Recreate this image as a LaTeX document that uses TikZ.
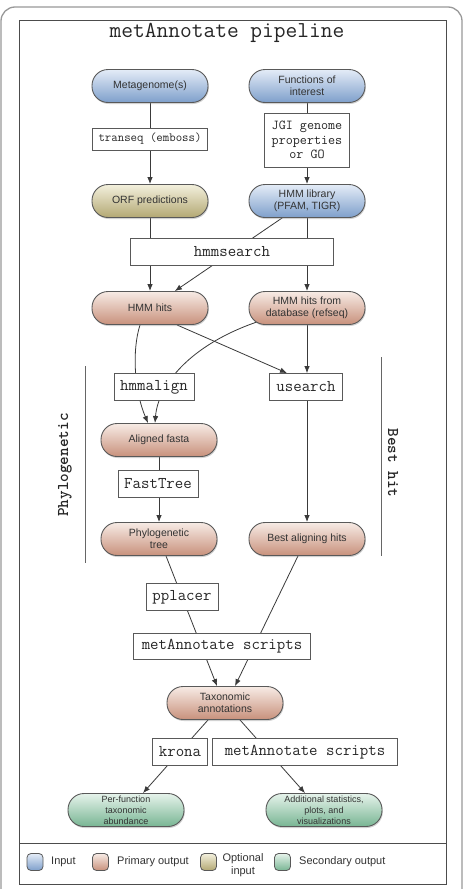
\documentclass[tikz,border=0pt]{standalone}
\usepackage{fontspec}
\setmainfont{Liberation Sans}
\newcommand\monof{\ttfamily}
\usetikzlibrary{shadows,arrows.meta}
\pgfdeclarelayer{back}
\pgfdeclarelayer{bg}
\pgfsetlayers{back,bg,main}
\definecolor{inTop}{HTML}{E4ECF7}
\definecolor{inBot}{HTML}{7E9FCB}
\definecolor{prTop}{HTML}{F7EBE5}
\definecolor{prBot}{HTML}{C8917C}
\definecolor{opTop}{HTML}{F3F0DD}
\definecolor{opBot}{HTML}{B3A873}
\definecolor{seTop}{HTML}{E6F3EB}
\definecolor{seBot}{HTML}{78B593}
\definecolor{lineC}{HTML}{3A3A3A}
\tikzset{
  pill/.style={rounded corners=16pt, minimum width=116pt, minimum height=33pt,
    draw=black!65, line width=0.9pt, align=center, inner sep=1pt,
    font=\fontsize{10.5}{12}\selectfont, text=black!80,
    drop shadow={opacity=0.35, shadow xshift=0.8pt, shadow yshift=-1.5pt}},
  inputn/.style={pill, top color=inTop, bottom color=inBot},
  primaryn/.style={pill, top color=prTop, bottom color=prBot},
  optionaln/.style={pill, top color=opTop, bottom color=opBot},
  secondaryn/.style={pill, top color=seTop, bottom color=seBot},
  legsq/.style={rounded corners=4pt, minimum width=16pt, minimum height=17pt,
    draw=black!65, line width=0.8pt, inner sep=0pt},
  tool/.style={draw=black!65, fill=white, line width=0.8pt, inner sep=0pt,
    minimum height=27pt, align=center, text=black!85,
    font=\monof\fontsize{16.4}{18}\selectfont},
  legtext/.style={font=\fontsize{11}{12.5}\selectfont, text=black!80, inner sep=0pt, align=center},
  edge/.style={draw=lineC, line width=0.8pt},
  arr/.style={edge, -{Latex[length=7pt,width=5.5pt]}},
  side/.style={font=\monof\bfseries\fontsize{16.4}{18}\selectfont, text=black!85}
}
\begin{document}
\begin{tikzpicture}[x=1pt,y=1pt]
\useasboundingbox (0,0) rectangle (465,-889);
\clip (0,0) rectangle (465,-889);
\begin{pgfonlayer}{back}
\fill[white] (0,0) rectangle (465,-889);
\end{pgfonlayer}
% frames
\draw[black!40, line width=1.3pt, rounded corners=14pt] (1,-7) rectangle (462,-910);
\draw[black!70, line width=1pt] (19,-20) rectangle (446,-884);
\draw[black!70, line width=1pt] (19,-843) -- (446,-843);

\node[font=\monof\fontsize{22.8}{26}\selectfont, text=black!85] (title) at (227,-33) {metAnnotate pipeline};

% nodes
\node[inputn] (meta) at (150,-86) {Metagenome(s)};
\node[inputn] (func) at (307,-86) {Functions of\\interest};
\node[tool, minimum width=115pt, minimum height=22pt, font=\monof\fontsize{12.5}{14}\selectfont] (transeq) at (150,-139) {transeq (emboss)};
\node[tool, minimum width=85pt, minimum height=54pt, font=\monof\fontsize{13.7}{14.3}\selectfont] (jgi) at (307,-140) {JGI genome\\properties\\or GO};
\node[optionaln] (orf) at (150,-201) {ORF predictions};
\node[inputn] (lib) at (307,-201) {HMM library\\(PFAM, TIGR)};
\node[tool, minimum width=203pt] (hmmsearch) at (232,-252) {hmmsearch};
\node[primaryn] (hits) at (150,-308) {HMM hits};
\node[primaryn] (dbhits) at (307,-308) {HMM hits from\\database (refseq)};
\node[tool, minimum width=80pt] (hmmalign) at (154,-387) {hmmalign};
\node[tool, minimum width=73pt] (usearch) at (306,-387) {usearch};
\node[primaryn] (afasta) at (159,-440) {Aligned fasta};
\node[tool, minimum width=80pt] (fasttree) at (158,-484) {FastTree};
\node[primaryn] (phylo) at (159,-539) {Phylogenetic\\tree};
\node[primaryn] (best) at (307,-539) {Best aligning hits};
\node[tool, minimum width=72pt] (pplacer) at (182,-597) {pplacer};
\node[tool, minimum width=177pt, minimum height=26pt] (scripts) at (222,-646) {metAnnotate scripts};
\node[primaryn] (taxo) at (225,-703) {Taxonomic\\annotations};
\node[tool, minimum width=55pt] (krona) at (180,-752) {krona};
\node[tool, minimum width=185pt] (scripts2) at (305,-752) {metAnnotate scripts};
\node[secondaryn, font=\fontsize{9}{11}\selectfont] (perf) at (126,-810) {Per-function\\taxonomic\\abundance};
\node[secondaryn, font=\fontsize{9}{11}\selectfont] (addl) at (324,-810) {Additional statistics,\\plots, and\\visualizations};

% side labels
\node[side, rotate=90] (phl) at (65,-465) {Phylogenetic};
\node[side, rotate=-90] (bhl) at (393,-463) {Best hit};
\draw[black!60, line width=0.8pt] (85,-366) -- (85,-563);
\draw[black!60, line width=0.8pt] (381,-357) -- (381,-556);

% legend
\node[legsq, top color=inTop, bottom color=inBot] (lin) at (35,-862) {};
\node[legtext, anchor=west] (lint) at (51,-862) {Input};
\node[legsq, top color=prTop, bottom color=prBot] (lpr) at (100.5,-862) {};
\node[legtext, anchor=west] (lprt) at (117,-862) {Primary output};
\node[legsq, top color=opTop, bottom color=opBot] (lop) at (208.5,-862) {};
\node[legtext] (lopt) at (243,-865) {Optional\\input};
\node[legsq, top color=seTop, bottom color=seBot] (lse) at (282.5,-862) {};
\node[legtext, anchor=west] (lset) at (299,-862) {Secondary output};

% connectors
\begin{pgfonlayer}{bg}
\draw[arr] (meta) -- (orf);
\draw[arr] (func) -- (lib);
\draw[arr] (orf) -- (hits);
\draw[arr] (lib) -- (dbhits);
\draw[arr] (lib) -- (hits);
\draw[arr] ([xshift=-10pt]hits.south) .. controls (132,-350) and (134,-390) .. ([xshift=-11pt]afasta.north);
\draw[arr] ([xshift=-50pt,yshift=3pt]dbhits.south) .. controls (190,-345) and (158,-385) .. ([xshift=-4pt]afasta.north);
\draw[arr] ([xshift=27pt]hits.south) -- ([xshift=-19pt]usearch.north);
\draw[arr] (dbhits.south) -- (dbhits.south |- usearch.north);
\draw[arr] (usearch.south -| best.north) -- (best.north);
\draw[arr] (afasta) -- (phylo);
\draw[arr] ([xshift=7pt]phylo.south) -- ([xshift=-8pt]taxo.north);
\draw[arr] ([xshift=-9pt]best.south) -- ([xshift=10pt]taxo.north);
\draw[arr] ([xshift=-17pt]taxo.south) -- ([xshift=17pt]perf.north);
\draw[arr] ([xshift=15pt]taxo.south) -- ([xshift=-19pt]addl.north);
\end{pgfonlayer}
\end{tikzpicture}
\end{document}
